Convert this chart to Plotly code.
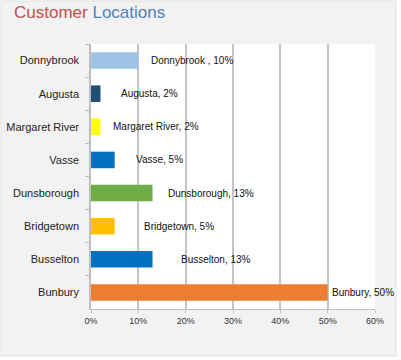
import plotly.graph_objects as go

categories = ["Donnybrook", "Augusta", "Margaret River", "Vasse",
              "Dunsborough", "Bridgetown", "Busselton", "Bunbury"]
values = [10, 2, 2, 5, 13, 5, 13, 50]
label_names = ["Donnybrook ", "Augusta", "Margaret River", "Vasse",
               "Dunsborough", "Bridgetown", "Busselton", "Bunbury"]
tick_values = [0, 10, 20, 30, 40, 50, 60]
tick_labels = ["0%", "10%", "20%", "30%", "40%", "50%", "60%"]

colors = ["#9dc3e6", "#1f4e79", "#ffff00", "#0070c0",
          "#70ad47", "#ffc000", "#0070c0", "#ed7d31"]
label_shift = [11, 19, 11, 19, 13, 27, 26, 2]

FONT = "Liberation Sans, Arial, sans-serif"

L, R, T, B = 91, 26, 44, 51
W, H = 401, 360
pw, ph = W - L - R, H - T - B


def px_x(p):
    return (p - L) / pw


def px_y(p):
    return (H - B - p) / ph


fig = go.Figure()
fig.add_trace(go.Bar(
    y=categories, x=values, orientation="h",
    marker=dict(color=colors, line=dict(width=0)),
    hoverinfo="skip",
))

annotations = []
for c, v, n, s in zip(categories, values, label_names, label_shift):
    annotations.append(dict(
        x=v, y=c, xref="x", yref="y", text=f"{n}, {v}%",
        showarrow=False, xanchor="left", xshift=s,
        font=dict(family=FONT, size=10, color="#111111"),
    ))

annotations.append(dict(
    x=px_x(12), y=px_y(12), xref="paper", yref="paper",
    text="<span style='color:#c0504d'>Customer</span> <span style='color:#4f81bd'>Locations</span>",
    showarrow=False, xanchor="left", yanchor="middle",
    font=dict(family=FONT, size=17),
))

shapes = [
    dict(type="rect", xref="paper", yref="paper",
         x0=px_x(1), x1=px_x(396), y0=px_y(356), y1=px_y(1),
         fillcolor="#f2f2f2", line=dict(color="#dedede", width=1), layer="below"),
    dict(type="rect", xref="paper", yref="paper",
         x0=0, x1=1, y0=0, y1=1,
         fillcolor="#ffffff", line=dict(width=0), layer="below"),
]

fig.update_layout(
    width=W, height=H,
    margin=dict(l=L, r=R, t=T, b=B, pad=0, autoexpand=False),
    paper_bgcolor="#ffffff", plot_bgcolor="#ffffff",
    showlegend=False, bargap=0.5,
    annotations=annotations, shapes=shapes,
    font=dict(family=FONT),
    xaxis=dict(
        range=[0, 60], tickvals=tick_values, ticktext=tick_labels,
        showgrid=True, gridcolor="#c4c4c4", gridwidth=1.5,
        showline=True, linecolor="#bfbfbf", linewidth=1,
        ticks="outside", ticklen=3, tickcolor="#bfbfbf",
        tickfont=dict(family=FONT, size=9, color="#333333"),
        zeroline=False, fixedrange=True, automargin=False,
    ),
    yaxis=dict(
        autorange="reversed", type="category",
        showline=True, linecolor="#bfbfbf", linewidth=1.5,
        ticks="outside", ticklen=4, tickcolor="#bfbfbf", tickson="boundaries",
        ticklabelstandoff=8,
        tickfont=dict(family=FONT, size=11, color="#222222"),
        showgrid=False, zeroline=False, fixedrange=True, automargin=False,
    ),
)

fig.write_html("out.html", config={"displayModeBar": False},
               post_script="document.body.style.margin='0';")
